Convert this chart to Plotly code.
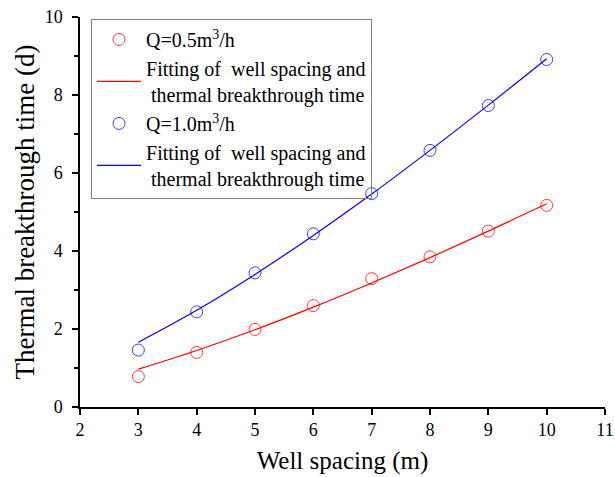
import plotly.graph_objects as go

# Data
spacing = [3, 4, 5, 6, 7, 8, 9, 10]
t_q05 = [0.78, 1.40, 1.99, 2.60, 3.29, 3.85, 4.51, 5.17]
t_q10 = [1.46, 2.44, 3.44, 4.44, 5.47, 6.58, 7.73, 8.91]
fit_q05 = [0.97, 1.45, 1.98, 2.56, 3.18, 3.83, 4.51, 5.21]
fit_q10 = [1.66, 2.48, 3.40, 4.40, 5.46, 6.58, 7.74, 8.93]
x_ticks = [2, 3, 4, 5, 6, 7, 8, 9, 10, 11]
y_ticks = [0, 2, 4, 6, 8, 10]
y_minor = [1, 3, 5, 7, 9]

FONT = "Liberation Serif, Times New Roman, serif"
fit_label = "Fitting of \u00a0well spacing and<br>\u00a0thermal breakthrough time"

fig = go.Figure()
fig.add_trace(go.Scatter(
    x=spacing, y=t_q05, mode="markers", name="Q=0.5m<sup>3</sup>/h",
    marker=dict(symbol="circle-open", size=12, color="#ff3b3b", line=dict(width=1))))
fig.add_trace(go.Scatter(
    x=spacing, y=fit_q05, mode="lines", name=fit_label,
    line=dict(color="#ff0000", width=1.2, shape="spline")))
fig.add_trace(go.Scatter(
    x=spacing, y=t_q10, mode="markers", name="Q=1.0m<sup>3</sup>/h",
    marker=dict(symbol="circle-open", size=12, color="#3b3bff", line=dict(width=1))))
fig.add_trace(go.Scatter(
    x=spacing, y=fit_q10, mode="lines", name=fit_label,
    line=dict(color="#0000ff", width=1.2, shape="spline")))

fig.update_layout(
    width=615, height=477,
    margin=dict(l=80, r=10, t=17, b=70),
    paper_bgcolor="white", plot_bgcolor="white",
    font=dict(family=FONT, color="black", size=18),
    showlegend=True,
    legend=dict(
        x=0.021, y=0.995, xanchor="left", yanchor="top",
        bgcolor="rgba(255,255,255,0)", bordercolor="#808080", borderwidth=1,
        font=dict(family=FONT, size=20, color="black"),
        itemwidth=44, tracegroupgap=0,
    ),
    xaxis=dict(
        range=[2, 11], tickvals=x_ticks, ticktext=[str(v) for v in x_ticks],
        showgrid=False, zeroline=False, showline=True, linecolor="black", linewidth=1.5,
        ticks="outside", ticklen=6, tickwidth=1.5, tickcolor="black",
        tickfont=dict(size=18, family=FONT), ticklabeloverflow="allow",
        automargin=False,
        title=dict(text="Well spacing (m)", font=dict(size=25, family=FONT), standoff=12),
    ),
    yaxis=dict(
        range=[0, 10], tickvals=y_ticks, ticktext=[str(v) for v in y_ticks],
        showgrid=False, zeroline=False, showline=True, linecolor="black", linewidth=1.5,
        ticks="outside", ticklen=6, tickwidth=1.5, tickcolor="black",
        tickfont=dict(size=18, family=FONT), ticklabelstandoff=6,
        automargin=False,
        minor=dict(tickvals=y_minor, ticks="outside", ticklen=4, tickwidth=1.5, tickcolor="black"),
        title=dict(text="Thermal breakthrough time (d)", font=dict(size=27, family=FONT), standoff=2),
    ),
)

fig.write_html("out.html")
